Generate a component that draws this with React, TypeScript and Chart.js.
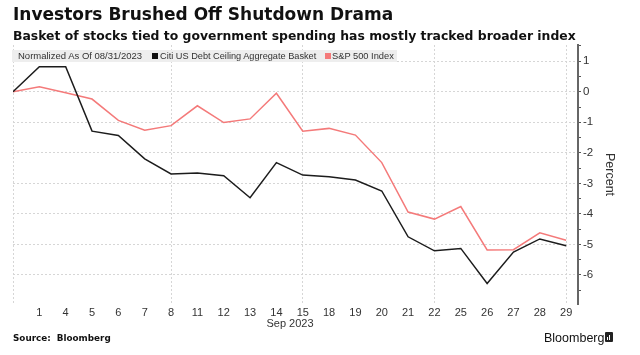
import React, { useEffect, useRef } from "react";
import { Chart, registerables } from "chart.js";

Chart.register(...registerables);

const dayLabels = ["", "1", "4", "5", "6", "7", "8", "11", "12", "13", "14", "15", "18", "19", "20", "21", "22", "25", "26", "27", "28", "29"];
const basketValues = [0, 0.82, 0.82, -1.29, -1.43, -2.2, -2.69, -2.66, -2.75, -3.47, -2.32, -2.73, -2.78, -2.89, -3.25, -4.75, -5.21, -5.13, -6.28, -5.25, -4.82, -5.04];
const sp500Values = [0, 0.16, -0.03, -0.24, -0.94, -1.26, -1.11, -0.46, -1.01, -0.89, -0.05, -1.29, -1.2, -1.42, -2.32, -3.94, -4.17, -3.76, -5.18, -5.17, -4.62, -4.86];
const yTickValues = [1.5, 1, 0.5, 0, -0.5, -1, -1.5, -2, -2.5, -3, -3.5, -4, -4.5, -5, -5.5, -6, -6.5];
const yLabelTicks = [1, 0, -1, -2, -3, -4, -5, -6];
const weekGridDays = ["", "8", "15", "22", "29"];

const SANS = "'Liberation Sans', Arial, sans-serif";
const BOLD = "'DejaVu Sans', Verdana, sans-serif";

export default function App() {
  const ref = useRef<HTMLCanvasElement>(null);

  useEffect(() => {
    const canvas = ref.current;
    if (!canvas) return;
    const chart = new Chart(canvas, {
      type: "line",
      data: {
        datasets: [
          {
            label: "Citi US Debt Ceiling Aggregate Basket",
            data: basketValues.map((y, i) => ({ x: i, y })),
            borderColor: "#1c1c1c",
            borderWidth: 1.5,
            pointRadius: 0,
            tension: 0,
          },
          {
            label: "S&P 500 Index",
            data: sp500Values.map((y, i) => ({ x: i, y })),
            borderColor: "#f47a7a",
            borderWidth: 1.5,
            pointRadius: 0,
            tension: 0,
          },
        ],
      },
      options: {
        animation: false,
        responsive: false,
        devicePixelRatio: 1,
        layout: { padding: { left: 13, top: 45, right: 0, bottom: 0 } },
        plugins: { legend: { display: false }, tooltip: { enabled: false } },
        scales: {
          x: {
            type: "linear",
            min: 0,
            max: 21.45,
            afterBuildTicks: (s: any) => {
              s.ticks = dayLabels.map((_, i) => ({ value: i }));
            },
            afterFit: (s: any) => {
              s.height = 51;
            },
            ticks: {
              autoSkip: false,
              maxRotation: 0,
              padding: 2,
              color: "#333",
              font: { family: SANS, size: 11 },
              callback: (v: any) => dayLabels[v as number] ?? "",
            },
            grid: {
              drawTicks: false,
              lineWidth: 1,
              color: (c: any) =>
                c.tick && weekGridDays.includes(dayLabels[c.tick.value]) ? "#d6d6d6" : "rgba(0,0,0,0)",
            },
            border: { display: false, dash: [2, 2] },
          },
          y: {
            position: "right",
            min: -6.95,
            max: 1.53,
            afterBuildTicks: (s: any) => {
              s.ticks = yTickValues.map((v) => ({ value: v }));
            },
            afterFit: (s: any) => {
              s.width = 62;
            },
            ticks: {
              autoSkip: false,
              padding: 2,
              color: "#333",
              font: { family: SANS, size: 11.5 },
              callback: (v: any) => (yLabelTicks.includes(v as number) ? String(v) : ""),
            },
            grid: {
              drawTicks: true,
              tickLength: 3,
              tickColor: "#555",
              lineWidth: 1,
              color: (c: any) =>
                c.tick && yLabelTicks.includes(c.tick.value) ? "#d6d6d6" : "rgba(0,0,0,0)",
            },
            border: { display: true, color: "#666", width: 2, dash: [2, 2] },
          },
        },
      },
    } as any);
    return () => chart.destroy();
  }, []);

  return (
    <div
      style={{
        position: "fixed",
        left: 0,
        top: 0,
        width: 640,
        height: 355,
        background: "#fff",
        overflow: "hidden",
      }}
    >
      <canvas ref={ref} width={640} height={355} style={{ position: "absolute", left: 0, top: 0, width: 640, height: 355 }} />
      <div style={{ position: "absolute", left: 13, top: 6, fontFamily: BOLD, fontWeight: "bold", fontSize: 17, lineHeight: "17px", color: "#111", whiteSpace: "nowrap" }}>
        Investors Brushed Off Shutdown Drama
      </div>
      <div style={{ position: "absolute", left: 13, top: 29, fontFamily: BOLD, fontWeight: "bold", fontSize: 12.4, lineHeight: "13px", color: "#111", whiteSpace: "nowrap" }}>
        Basket of stocks tied to government spending has mostly tracked broader index
      </div>
      <div style={{ position: "absolute", left: 12, top: 50, width: 385, height: 12, background: "#eeeeee" }} />
      <div style={{ position: "absolute", left: 18, top: 50, fontFamily: SANS, fontSize: 9.5, lineHeight: "12px", color: "#333", whiteSpace: "nowrap" }}>
        Normalized As Of 08/31/2023
      </div>
      <div style={{ position: "absolute", left: 152, top: 53, width: 6, height: 6, background: "#111" }} />
      <div style={{ position: "absolute", left: 160, top: 50, fontFamily: SANS, fontSize: 9.2, lineHeight: "12px", color: "#333", whiteSpace: "nowrap" }}>
        Citi US Debt Ceiling Aggregate Basket
      </div>
      <div style={{ position: "absolute", left: 325, top: 53, width: 6, height: 6, background: "#f47a7a" }} />
      <div style={{ position: "absolute", left: 332, top: 50, fontFamily: SANS, fontSize: 9.3, lineHeight: "12px", color: "#333", whiteSpace: "nowrap" }}>
        S&amp;P 500 Index
      </div>
      <div style={{ position: "absolute", left: 603, top: 153, writingMode: "vertical-rl", fontFamily: SANS, fontSize: 12.5, lineHeight: "14px", color: "#333", whiteSpace: "nowrap" }}>
        Percent
      </div>
      <div style={{ position: "absolute", left: 240, width: 100, textAlign: "center", top: 317, fontFamily: SANS, fontSize: 11, lineHeight: "12px", color: "#333", whiteSpace: "nowrap" }}>
        Sep 2023
      </div>
      <div style={{ position: "absolute", left: 13, top: 334, fontFamily: BOLD, fontWeight: "bold", fontSize: 8.8, lineHeight: "9px", color: "#111", whiteSpace: "pre" }}>
        {"Source:  Bloomberg"}
      </div>
      <div style={{ position: "absolute", left: 544, top: 331, fontFamily: SANS, fontSize: 12.5, lineHeight: "14px", color: "#111", whiteSpace: "nowrap" }}>
        Bloomberg
      </div>
      <div style={{ position: "absolute", left: 605, top: 332, width: 8, height: 10, background: "#222", borderRadius: 1 }}>
        <div style={{ position: "absolute", left: 2, top: 5, width: 1, height: 3, background: "#fff" }} />
        <div style={{ position: "absolute", left: 4, top: 3, width: 1, height: 5, background: "#fff" }} />
      </div>
    </div>
  );
}
